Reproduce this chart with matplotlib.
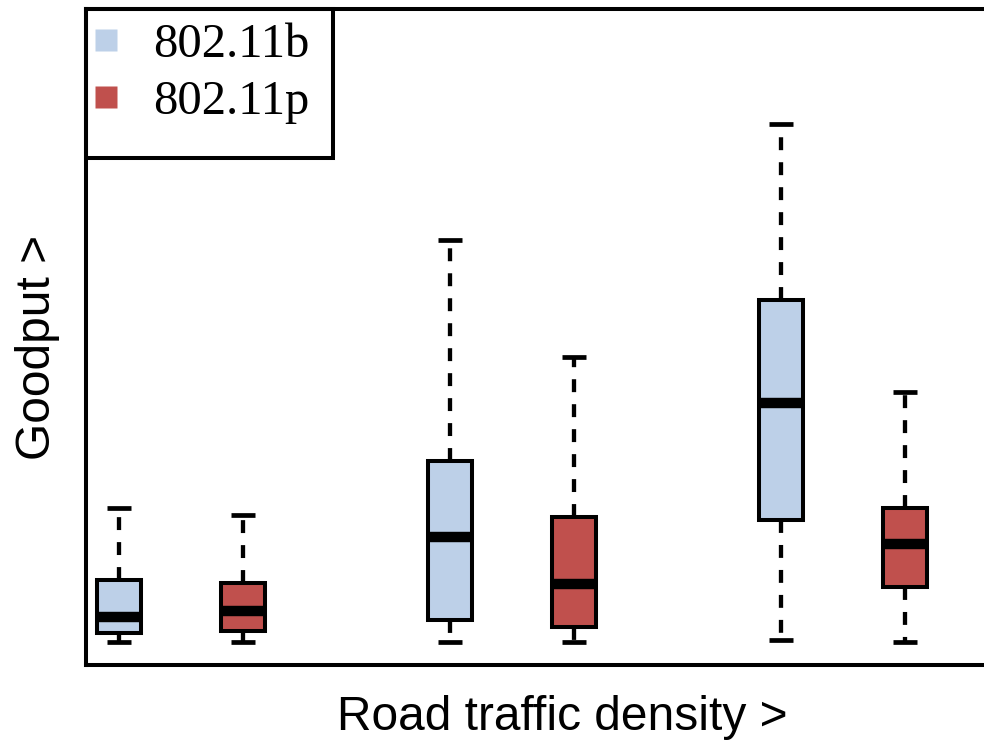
import matplotlib
matplotlib.use("Agg")
import matplotlib.pyplot as plt
from matplotlib.lines import Line2D
from matplotlib.patches import Rectangle
import numpy as np

# ---- data ----
categories = ["low", "medium", "high"]
series_names = ["802.11b", "802.11p"]

b_whislo = [3.5, 3.5, 3.8]
b_q1 = [4.9, 6.8, 22.1]
b_med = [7.3, 19.5, 39.9]
b_q3 = [12.9, 31.1, 55.6]
b_whishi = [24.0, 64.8, 82.5]

p_whislo = [3.5, 3.5, 3.5]
p_q1 = [5.2, 5.8, 11.9]
p_med = [8.2, 12.3, 18.4]
p_q3 = [12.5, 22.5, 23.9]
p_whishi = [22.8, 46.9, 41.6]

colors = ["#BDD0E8", "#C0504D"]

# ---- figure ----
fig = plt.figure(figsize=(9.84, 7.40), dpi=100)
ax = fig.add_axes([86 / 984, 75 / 740, 952 / 984, 656 / 740])

def stats(lo, q1, med, q3, hi):
    return [dict(whislo=a, q1=b, med=c, q3=d, whishi=e, fliers=[])
            for a, b, c, d, e in zip(lo, q1, med, q3, hi)]

offset = 0.1873
width = 0.13
capw = 0.0755
group_x = np.arange(1, len(categories) + 1)

lw_box = 2.9
common = dict(
    showfliers=False, patch_artist=True, widths=width, capwidths=capw,
    medianprops=dict(color="black", linewidth=7.5, solid_capstyle="butt"),
    whiskerprops=dict(color="black", linewidth=3.1, linestyle=(0, (3.0, 2.8))),
    capprops=dict(color="black", linewidth=3.4, solid_capstyle="butt"),
)

sets = [stats(b_whislo, b_q1, b_med, b_q3, b_whishi),
        stats(p_whislo, p_q1, p_med, p_q3, p_whishi)]
for i, (st, col) in enumerate(zip(sets, colors)):
    pos = group_x + (2 * i - 1) * offset
    ax.bxp(st, positions=pos,
           boxprops=dict(facecolor=col, edgecolor="black", linewidth=lw_box,
                         joinstyle="miter"),
           **common)

ax.set_xlim(1 - 95 / 331, 1 - 95 / 331 + 952 / 331)
ax.set_ylim(0, 100)
ax.set_xticks([])
ax.set_yticks([])
for s in ax.spines.values():
    s.set_linewidth(2.9)

lab_font = dict(family=["Liberation Sans", "DejaVu Sans"], size=34.5)
ax.set_xlabel("Road traffic density >", **lab_font)
ax.set_ylabel("Goodput >", **lab_font)
ax.xaxis.set_label_coords(0.5, -0.045)
ax.yaxis.set_label_coords(-0.027, 0.484)

handles = [Line2D([], [], linestyle="none", marker="s", markersize=16,
                  markerfacecolor=c, markeredgecolor="none") for c in colors]
leg = ax.legend(handles, series_names, loc="upper left", bbox_to_anchor=(0, 1),
                borderaxespad=0, frameon=False, borderpad=0.29,
                handlelength=0.25, handletextpad=0.84, labelspacing=0.27,
                prop=dict(family=["Liberation Serif", "DejaVu Serif"], size=35))
ax.add_patch(Rectangle((0, 1 - 149 / 656), 247 / 952, 149 / 656,
                       transform=ax.transAxes, fill=False, edgecolor="black",
                       linewidth=2.9, clip_on=False, zorder=5,
                       joinstyle="miter"))

fig.savefig("out.png", dpi=100)
